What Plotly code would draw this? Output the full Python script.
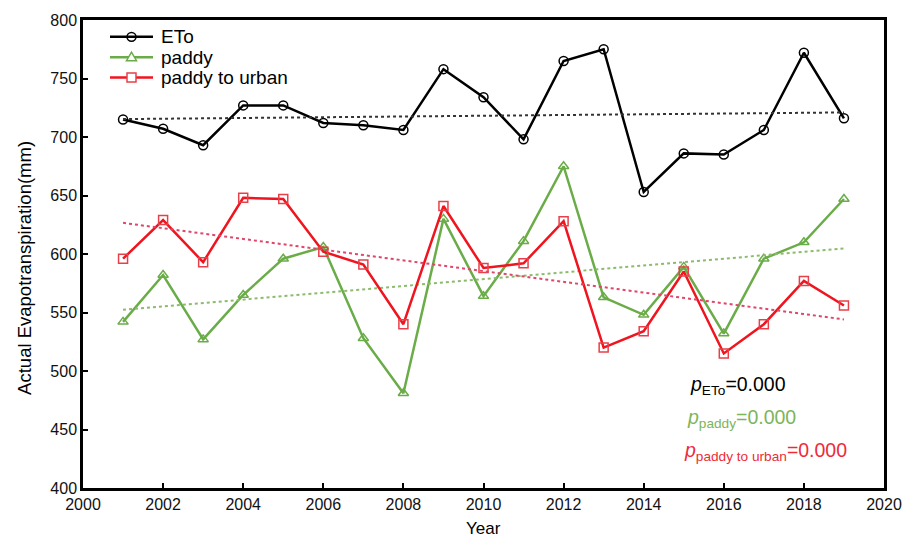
import numpy as np
import plotly.graph_objects as go

# Annual actual evapotranspiration (mm), 2001-2019
years = list(range(2001, 2020))
eto = [715, 707, 693, 727, 727, 712, 710, 706, 758, 734,
       698, 765, 775, 653, 686, 685, 706, 772, 716]
paddy = [542, 582, 527, 565, 596, 606, 528, 481, 630, 564,
         611, 675, 563, 548, 589, 532, 596, 610, 647]
paddy_urban = [596, 629, 593, 648, 647, 602, 591, 540, 641, 588,
               592, 628, 520, 534, 585, 515, 540, 577, 556]

x_ticks = list(range(2000, 2021, 2))
y_ticks = list(range(400, 801, 50))

series = [
    ("ETo", eto, "#000000", "#000000", "circle-open", "#333333"),
    ("paddy", paddy, "#6AAC48", "#6AAC48", "triangle-up-open", "#8CBB6C"),
    ("paddy to urban", paddy_urban, "#F0141E", "#E8404A", "square-open", "#E0456A"),
]

W, H = 916, 544
ML, MR, MT, MB = 83, 32, 16, 56
PW, PH = W - ML - MR, H - MT - MB


def px(xp):
    return (xp - ML) / PW


def py(yp):
    return (H - MB - yp) / PH


fig = go.Figure()
yrs = np.array(years, dtype=float)
for name, vals, lc, mc, sym, tc in series:
    fig.add_trace(go.Scatter(
        x=years, y=vals, name=name, mode="lines+markers",
        line=dict(color=lc, width=2.5),
        marker=dict(symbol=sym, size=9, color=mc, line=dict(width=1.5, color=mc)),
        showlegend=False,
    ))
    # least-squares linear trend
    k, b = np.polyfit(yrs, np.array(vals, dtype=float), 1)
    fig.add_trace(go.Scatter(
        x=[years[0], years[-1]], y=[k * years[0] + b, k * years[-1] + b],
        mode="lines", line=dict(color=tc, width=2, dash="dot"),
        showlegend=False, hoverinfo="skip",
    ))

font_family = "Liberation Sans, Arial, sans-serif"
axis_common = dict(
    showline=True, linecolor="black", linewidth=2.5, mirror=True,
    ticks="inside", ticklen=5, tickwidth=1.5, tickcolor="black",
    showgrid=False, zeroline=False,
    tickfont=dict(family=font_family, size=16, color="#111111"),
)

fig.update_layout(
    width=W, height=H,
    margin=dict(l=ML, r=MR, t=MT, b=MB),
    paper_bgcolor="white", plot_bgcolor="white",
    font=dict(family=font_family, color="black"),
    showlegend=False,
    xaxis=dict(range=[2000, 2020], tickvals=x_ticks,
               ticktext=[str(v) for v in x_ticks], **axis_common),
    yaxis=dict(range=[400, 800], tickvals=y_ticks,
               ticktext=[str(v) for v in y_ticks], **axis_common),
)

# Legend block in the upper-left corner of the plot
legend_rows = [33, 53.5, 74]
for (name, vals, lc, mc, sym, tc), row in zip(series, legend_rows):
    y0 = py(row)
    fig.add_shape(type="line", xref="paper", yref="paper",
                  x0=px(110), x1=px(153), y0=y0, y1=y0,
                  line=dict(color=lc, width=2.5))
    r = 4.5
    if sym.startswith("circle"):
        fig.add_shape(type="circle", xref="paper", yref="paper",
                      x0=px(131.5 - r), x1=px(131.5 + r), y0=py(row + r), y1=py(row - r),
                      line=dict(color=mc, width=1.5), fillcolor="rgba(0,0,0,0)")
    elif sym.startswith("square"):
        fig.add_shape(type="rect", xref="paper", yref="paper",
                      x0=px(131.5 - r), x1=px(131.5 + r), y0=py(row + r), y1=py(row - r),
                      line=dict(color=mc, width=1.5), fillcolor="white")
    else:
        path = "M {:.5f} {:.5f} L {:.5f} {:.5f} L {:.5f} {:.5f} Z".format(
            px(131.5 - r - 0.5), py(row + 3.5), px(131.5 + r + 0.5), py(row + 3.5),
            px(131.5), py(row - 5))
        fig.add_shape(type="path", xref="paper", yref="paper", path=path,
                      line=dict(color=mc, width=1.5), fillcolor="white")
    fig.add_annotation(
        text=name, xref="paper", yref="paper", x=px(159), y=py(row),
        xanchor="left", yanchor="middle", showarrow=False,
        font=dict(family=font_family, size=19, color="black"),
    )

fig.add_annotation(
    text="Year", xref="paper", yref="paper", x=0.5, y=py(517),
    xanchor="center", yanchor="top", showarrow=False,
    font=dict(family=font_family, size=17, color="black"),
)
fig.add_annotation(
    text="Actual Evapotranspiration(mm)", xref="paper", yref="paper",
    x=px(25), y=py(266), xanchor="center", yanchor="middle", textangle=-90,
    showarrow=False, font=dict(family=font_family, size=18.5, color="black"),
)

p_labels = [
    ("<i>p</i><sub>ETo</sub>=0.000", "#000000", 0.755, 0.218),
    ("<i>p</i><sub>paddy</sub>=0.000", "#7DB55A", 0.752, 0.148),
    ("<i>p</i><sub>paddy to urban</sub>=0.000", "#EE2A3A", 0.748, 0.078),
]
for txt, col, xp, yp in p_labels:
    fig.add_annotation(
        text=txt, xref="paper", yref="paper", x=xp, y=yp,
        xanchor="left", yanchor="middle", showarrow=False,
        font=dict(family=font_family, size=19.5, color=col),
    )

fig.write_html("out.html")
